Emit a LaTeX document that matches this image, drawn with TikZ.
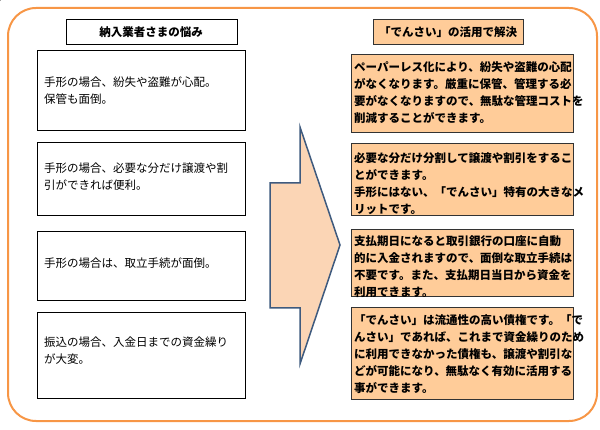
\documentclass[tikz,border=0pt]{standalone}
\usepackage{fontspec}
\newfontfamily\jp{Noto Sans CJK JP}
\definecolor{peach}{HTML}{FFCC99}
\definecolor{orn}{HTML}{F79646}
\definecolor{arrowc}{HTML}{FBD5B5}
\definecolor{arrowl}{HTML}{3E5A7E}
\begin{document}
\begin{tikzpicture}[x=1pt,y=-1pt,
  lbox/.style={draw=black,line width=1pt,fill=white,inner sep=0pt},
  rbox/.style={draw=black!80,line width=1pt,fill=peach,inner sep=0pt},
  ltxt/.style={anchor=north west,align=left,font=\jp\fontsize{11.5}{17}\selectfont,inner sep=0pt},
  rtxt/.style={anchor=north west,align=left,font=\jp\bfseries\fontsize{11.5}{17}\selectfont,inner sep=0pt},
  head/.style={font=\jp\bfseries\fontsize{11.5}{14}\selectfont}]
\useasboundingbox (0,0) rectangle (600,430);
\draw[orn,line width=2pt,rounded corners=28] (8,8) rectangle (597,421);
% left
\node[lbox,fill=white,minimum width=0] (lh) at (0,0) {};
\draw[lbox] (66,20) rectangle (237,45);
\node[head] (lht) at (151,32.5) {納入業者さまの悩み};
\draw[lbox] (37,51) rectangle (245,131);
\draw[lbox] (37,143) rectangle (245,216);
\draw[lbox] (37,232) rectangle (245,301);
\draw[lbox] (37,313) rectangle (245,398);
\node[ltxt] (l1) at (44,77) {手形の場合、紛失や盗難が心配。\\保管も面倒。};
\node[ltxt] (l2) at (44,163) {手形の場合、必要な分だけ譲渡や割\\引ができれば便利。};
\node[ltxt] (l3) at (44,258) {手形の場合は、取立手続が面倒。};
\node[ltxt] (l4) at (44,337) {振込の場合、入金日までの資金繰り\\が大変。};
% arrow
\draw[arrowl,fill=arrowc,line width=1.5pt,line join=miter]
 (270,183)--(300,183)--(300,127)--(340,245)--(300,364)--(300,308)--(270,308)--cycle;
% right
\draw[rbox] (373,20) rectangle (523,45);
\node[head] (rht) at (448,32.5) {「でんさい」の活用で解決};
\draw[rbox] (351,55) rectangle (573,133);
\draw[rbox] (351,144) rectangle (573,216);
\draw[rbox] (351,230) rectangle (573,297);
\draw[rbox] (351,308) rectangle (573,399);
\node[rtxt] (r1) at (354,61) {ペーパーレス化により、紛失や盗難の心配\\がなくなります。厳重に保管、管理する必\\要がなくなりますので、無駄な管理コストを\\削減することができます。};
\node[rtxt] (r2) at (354,152) {必要な分だけ分割して譲渡や割引をするこ\\とができます。\\手形にはない、「でんさい」特有の大きなメ\\リットです。};
\node[rtxt] (r3) at (354,235) {支払期日になると取引銀行の口座に自動\\的に入金されますので、面倒な取立手続は\\不要です。また、支払期日当日から資金を\\利用できます。};
\node[rtxt] (r4) at (354,314) {「でんさい」は流通性の高い債権です。「で\\んさい」であれば、これまで資金繰りのため\\に利用できなかった債権も、譲渡や割引な\\どが可能になり、無駄なく有効に活用する\\事ができます。};
\end{tikzpicture}
\end{document}
